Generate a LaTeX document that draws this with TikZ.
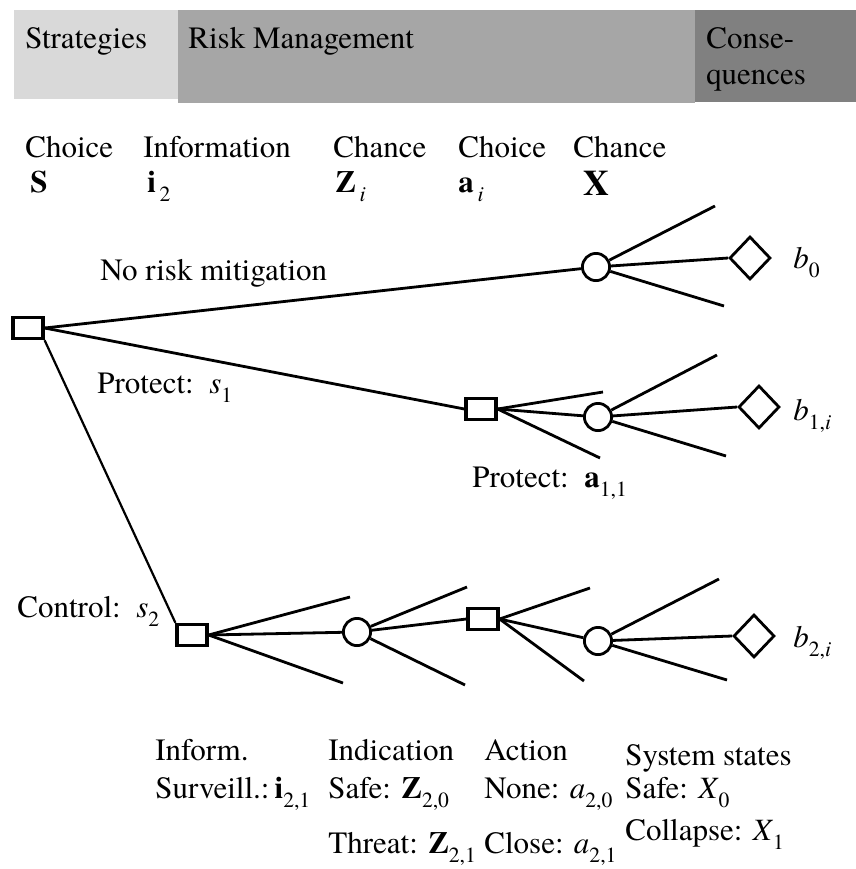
\documentclass[tikz,border=0pt]{standalone}
\usepackage{fontspec}
\setmainfont{texgyretermes}[
  Extension=.otf,
  UprightFont=*-regular,
  BoldFont=*-bold,
  ItalicFont=*-italic,
  BoldItalicFont=*-bolditalic]
\usepackage{xcolor}
\usepackage{tikz}
\usetikzlibrary{positioning,shapes.geometric}

\newcommand{\lowsub}[1]{\raisebox{-4.5pt}{\fontsize{10.8}{11}\selectfont\mdseries #1}}
\newcommand{\ivar}[2]{\textit{#1}\lowsub{#2}}
\newcommand{\bvar}[2]{\textbf{#1}\lowsub{#2}}

\begin{document}
\begin{tikzpicture}[
  x=0.5pt, y=-0.5pt,
  font=\fontsize{15.5}{18}\selectfont,
  choice/.style = {rectangle, draw=black, line width=1.8pt, fill=white,
    minimum width=14.8pt, minimum height=10.4pt, inner sep=0pt},
  chance/.style = {circle, draw=black, line width=1.4pt, fill=white,
    minimum size=13.6pt, inner sep=0pt},
  payoff/.style = {diamond, draw=black, line width=1.4pt, fill=white,
    minimum width=20.5pt, minimum height=21.5pt, inner sep=0pt},
  branch/.style = {line width=1.4pt, draw=black},
  lbl/.style    = {anchor=base west, inner sep=0pt},
]
  \useasboundingbox (0,0) rectangle (856,869);

  % header bands
  \fill[black!15] (14,10) rectangle (178,99);
  \fill[black!35] (178,10) rectangle (695,103);
  \fill[black!50] (695,10) rectangle (856,102);
  \node[lbl] (hstrat) at (25,48)  {Strategies};
  \node[lbl] (hrisk)  at (188,48) {Risk Management};
  \node[lbl] (hcons)  at (706,48) {Conse-};
  \node[lbl] (hquen)  at (706,84) {quences};

  % column heads
  \node[lbl] (cs)  at (25,157)  {Choice};
  \node[lbl] (vs)  at (30,192)  {\textbf{S}};
  \node[lbl] (ci)  at (143,157) {Information};
  \node[lbl] (vi)  at (147,192) {\bvar{i}{\,2}};
  \node[lbl] (cz)  at (333,157) {Chance};
  \node[lbl] (vz)  at (335,192) {\bvar{Z}{\,\textit{i}}};
  \node[lbl] (ca)  at (458,157) {Choice};
  \node[lbl] (va)  at (458,192) {\bvar{a}{\,\textit{i}}};
  \node[lbl] (cx)  at (573,157) {Chance};
  \node[lbl, font=\fontsize{18}{20}\selectfont] (vx) at (583,195) {\textbf{X}};

  % decision and chance nodes
  \node[choice] (s)  at (28,328)  {};
  \node[chance] (x0) at (596,267) {};
  \node[payoff] (d0) at (750,258) {};
  \node[choice] (a1) at (481,409) {};
  \node[chance] (x1) at (598,417) {};
  \node[payoff] (d1) at (759,407) {};
  \node[choice] (i2) at (192,635) {};
  \node[chance] (z2) at (357,632) {};
  \node[choice] (a2) at (483,619) {};
  \node[chance] (x2) at (598,641) {};
  \node[payoff] (d2) at (754,636) {};

  % loose branch ends
  \coordinate (x0u) at (715,206);  \coordinate (x0l) at (724,306);
  \coordinate (a1u) at (603,392);  \coordinate (a1l) at (600,458);
  \coordinate (x1u) at (717,355);  \coordinate (x1l) at (726,456);
  \coordinate (i2u) at (350,597);  \coordinate (i2l) at (343,683);
  \coordinate (z2u) at (467,587);  \coordinate (z2l) at (465,685);
  \coordinate (a2u) at (590,588);  \coordinate (a2l) at (584,681);
  \coordinate (x2u) at (719,579);  \coordinate (x2l) at (727,680);

  \draw[branch] (s.east) -- (x0);
  \draw[branch] (s.east) -- (a1.west);
  \draw[branch, line width=1.1pt] (s.south east) -- (i2.north west);

  \draw[branch] (x0) -- (x0u);
  \draw[branch] (x0) -- (d0.west);
  \draw[branch] (x0) -- (x0l);

  \draw[branch] (a1.east) -- (a1u);
  \draw[branch] (a1.east) -- (x1);
  \draw[branch] (a1.east) -- (a1l);
  \draw[branch] (x1) -- (x1u);
  \draw[branch] (x1) -- (d1.west);
  \draw[branch] (x1) -- (x1l);

  \draw[branch] (i2.east) -- (i2u);
  \draw[branch] (i2.east) -- (z2);
  \draw[branch] (i2.east) -- (i2l);
  \draw[branch] (z2) -- (z2u);
  \draw[branch] (z2) -- (a2.west);
  \draw[branch] (z2) -- (z2l);
  \draw[branch] (a2.east) -- (a2u);
  \draw[branch] (a2.east) -- (x2);
  \draw[branch] (a2.east) -- (a2l);
  \draw[branch] (x2) -- (x2u);
  \draw[branch] (x2) -- (d2.west);
  \draw[branch] (x2) -- (x2l);

  % branch labels and payoffs
  \node[lbl] (lnone) at (100,280) {No risk mitigation};
  \node[lbl] (lps)   at (97,393)  {Protect:~~\ivar{s}{1}};
  \node[lbl] (lpa)   at (472,487) {Protect:~~\bvar{a}{1,1}};
  \node[lbl] (lcs)   at (17,617)  {Control:~~\ivar{s}{2}};
  \node[lbl] (b0)    at (793,268) {\ivar{b}{0}};
  \node[lbl] (b1)    at (793,420) {\ivar{b}{1,\textit{i}}};
  \node[lbl] (b2)    at (793,647) {\ivar{b}{2,\textit{i}}};

  % legend below
  \node[lbl] (linf)  at (155,760) {Inform.};
  \node[lbl] (lsur)  at (155,798) {Surveill.:\,\bvar{i}{2,1}};
  \node[lbl] (lind)  at (328,760) {Indication};
  \node[lbl] (lzs)   at (328,798) {Safe: \bvar{Z}{2,0}};
  \node[lbl] (lzt)   at (328,853) {Threat: \bvar{Z}{2,1}};
  \node[lbl] (lact)  at (484,760) {Action};
  \node[lbl] (lan)   at (484,798) {None: \ivar{a}{2,0}};
  \node[lbl] (lac)   at (484,853) {Close: \ivar{a}{2,1}};
  \node[lbl] (lsys)  at (625,765) {System states};
  \node[lbl] (lxs)   at (625,798) {Safe: \ivar{X}{0}};
  \node[lbl] (lxc)   at (625,840) {Collapse: \ivar{X}{1}};
\end{tikzpicture}
\end{document}
